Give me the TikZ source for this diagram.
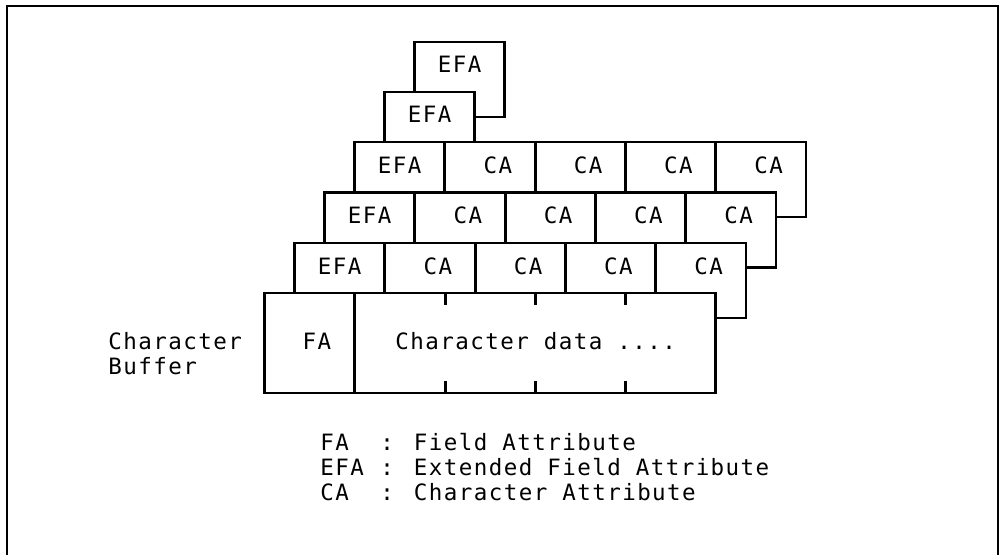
\documentclass[tikz,border=0pt]{standalone}
\usepackage{fontspec}
\newfontfamily\diagmono[LetterSpace=6.4]{DejaVu Sans Mono}
\begin{document}
\begin{tikzpicture}[x=1pt,y=-1pt,line width=2.8pt]
\tikzset{
  lbl/.style={font=\diagmono\fontsize{22.5}{25}\selectfont, inner sep=0pt, anchor=base},
  lblw/.style={lbl, anchor=base west},
  blk/.style={draw=black, fill=white, line width=2.8pt},
  framel/.style={line width=1.5pt}
}
\useasboundingbox (0,0) rectangle (1004,555);
% open frame
\draw[framel] (7,555) -- (7,6) -- (998,6) -- (998,555);
% top extended field attribute planes
\draw[blk] (414.5,42) rectangle ++(90.3,75);
\node[lbl] (efa5) at (459.7,72) {EFA};
\draw[blk] (384.5,92) rectangle ++(90.3,75);
\node[lbl] (efa4) at (429.7,122) {EFA};
% full attribute planes
\foreach \k/\L/\T in {3/354.5/142, 2/324.5/192.5, 1/294.5/243}{
  \draw[blk] (\L,\T) rectangle ++(451.5,75);
  \foreach \j in {1,...,4} \draw (\L+90.3*\j,\T) -- ++(0,75);
  \node[lbl] (efa\k) at (\L+45.15,\T+31) {EFA};
  \foreach \j in {1,...,4} \node[lbl] (ca\k\j) at (\L+90.3*\j+53,\T+31) {CA};
}
% character buffer
\draw[blk] (264.5,293) rectangle (715.8,393);
\draw (354.8,293) -- (354.8,393);
\foreach \x in {445.1,535.4,625.7}{
  \draw (\x,293) -- ++(0,12);
  \draw (\x,393) -- ++(0,-12);
}
\node[lbl] (fa) at (317,349) {FA};
\node[lblw] (cdata) at (394,349) {Character data ....};
\node[lblw] (cb1) at (107,349) {Character};
\node[lblw] (cb2) at (107,374) {Buffer};
% legend
\node[lblw] (k1) at (319,450) {FA};
\node[lblw] (k2) at (319,475) {EFA};
\node[lblw] (k3) at (319,500) {CA};
\node[lblw] (d1) at (379,450) {: Field Attribute};
\node[lblw] (d2) at (379,475) {: Extended Field Attribute};
\node[lblw] (d3) at (379,500) {: Character Attribute};
\end{tikzpicture}
\end{document}
